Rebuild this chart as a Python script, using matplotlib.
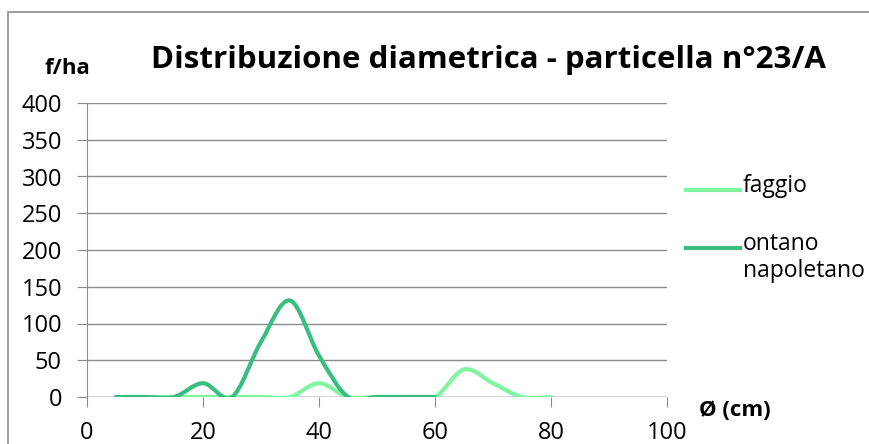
import matplotlib
matplotlib.use("Agg")
import matplotlib.pyplot as plt
from matplotlib.path import Path
from matplotlib.patches import PathPatch, Rectangle
from matplotlib.lines import Line2D

plt.rcParams["font.family"] = ["Open Sans", "DejaVu Sans"]

# ===== dati =====
diametri_faggio = [5, 10, 15, 20, 25, 30, 35, 40, 45, 50, 55, 60, 65, 70, 75, 80]
faggio = [0, 0, 0, 0, 0, 0, 0, 18.75, 0, 0, 0, 0, 37.5, 18.75, 0, 0]
diametri_ontano = [5, 10, 15, 20, 25, 30, 35, 40, 45, 50, 55, 60]
ontano = [0, 0, 0, 18.75, 0, 75, 131.25, 56.25, 0, 0, 0, 0]

y_ticks = [0, 50, 100, 150, 200, 250, 300, 350, 400]
x_ticks = [0, 20, 40, 60, 80, 100]

C_FAGGIO = "#80F5A0"
C_ONTANO = "#38BE7E"
GRIGIO = "#8C8C8C"


def smooth_path(xs, ys):
    """curva liscia tipo Excel (Bezier cubiche, tensione 1/6)"""
    pts = list(zip(xs, ys))
    n = len(pts)
    verts = [pts[0]]
    codes = [Path.MOVETO]
    for i in range(n - 1):
        p0 = pts[i - 1] if i > 0 else pts[i]
        p1 = pts[i]
        p2 = pts[i + 1]
        p3 = pts[i + 2] if i + 2 < n else pts[i + 1]
        c1 = (p1[0] + (p2[0] - p0[0]) / 6, p1[1] + (p2[1] - p0[1]) / 6)
        c2 = (p2[0] - (p3[0] - p1[0]) / 6, p2[1] - (p3[1] - p1[1]) / 6)
        verts += [c1, c2, p2]
        codes += [Path.CURVE4] * 3
    return Path(verts, codes)


fig = plt.figure(figsize=(8.7, 4.44), dpi=100)
ax = fig.add_axes([87 / 870, 1 - 397 / 444, 580 / 870, 294 / 444])

# bordo del grafico
fig.patches.append(Rectangle((8 / 870, -0.1), 1.0, (444 - 12) / 444 + 0.1,
                             transform=fig.transFigure, fill=False,
                             edgecolor=GRIGIO, linewidth=1.2))

for xs, ys, col in [(diametri_faggio, faggio, C_FAGGIO),
                    (diametri_ontano, ontano, C_ONTANO)]:
    ax.add_patch(PathPatch(smooth_path(xs, ys), fill=False, edgecolor=col,
                           linewidth=3, capstyle="round", joinstyle="round",
                           zorder=3))

ax.set_xlim(0, 100)
ax.set_ylim(0, 400)
ax.set_xticks(x_ticks)
ax.set_yticks(y_ticks)
ax.grid(axis="y", color=GRIGIO, linewidth=1)
ax.set_axisbelow(True)
for s in ["top", "right", "bottom"]:
    ax.spines[s].set_visible(False)
ax.spines["left"].set_color(GRIGIO)
ax.tick_params(axis="y", length=7, color=GRIGIO, labelsize=17, pad=11)
ax.tick_params(axis="x", length=7, color=GRIGIO, labelsize=17, pad=10)
ax.axhline(0, color=GRIGIO, linewidth=1, zorder=2)

fig.text(488 / 870, 1 - 60 / 444, "Distribuzione diametrica - particella n°23/A",
         ha="center", va="center", fontsize=22.5, fontweight="bold")
fig.text(67 / 870, 1 - 68 / 444, "f/ha", ha="center", va="center",
         fontsize=16, fontweight="bold")
fig.text(735 / 870, 1 - 410 / 444, "Ø (cm)", ha="center", va="center",
         fontsize=16, fontweight="bold")

# legenda
for y, col, lab in [(190, C_FAGGIO, "faggio"), (248, C_ONTANO, "ontano\nnapoletano")]:
    fig.add_artist(Line2D([686 / 870, 740 / 870], [1 - y / 444] * 2,
                          color=col, linewidth=3, transform=fig.transFigure))
    fig.text(743 / 870, 1 - (y - 16) / 444, lab, ha="left", va="top",
             fontsize=16.5, linespacing=1.15)

fig.savefig("out.png", dpi=100)
